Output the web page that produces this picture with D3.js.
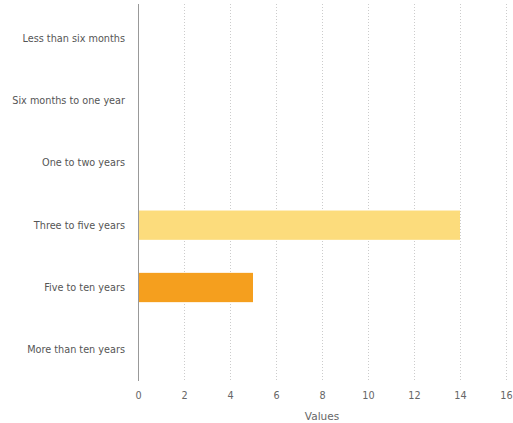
<!DOCTYPE html>
<html>
<head>
<meta charset="utf-8">
<script src="https://cdn.jsdelivr.net/npm/d3@7"></script>
<style>
  body { margin: 0; background: #fff; }
  text { font-family: "DejaVu Sans", Verdana, sans-serif; }
</style>
</head>
<body>
<script>
const categories = ["Less than six months", "Six months to one year", "One to two years",
  "Three to five years", "Five to ten years", "More than ten years"];
const values = [0, 0, 0, 14, 5, 0];
const barColors = ["#fcdc7c", "#fcdc7c", "#fcdc7c", "#fcdc7c", "#f59f1e", "#f59f1e"];
const xTicks = [0, 2, 4, 6, 8, 10, 12, 14, 16];

const W = 513, H = 423;
const mLeft = 138, mRight = 506, mTop = 7, mBottom = 381;

const svg = d3.select('body').append('svg')
  .attr('width', W)
  .attr('height', H);

const x = d3.scaleLinear().domain([0, 16]).range([mLeft, mRight]);
const y = d3.scaleBand().domain(categories).range([mTop, mBottom]).paddingInner(0.53).paddingOuter(0.265);

// dotted grid
svg.append('g').selectAll('line')
  .data(xTicks.filter(d => d > 0))
  .join('line')
  .attr('x1', d => Math.round(x(d)) + 0.5)
  .attr('x2', d => Math.round(x(d)) + 0.5)
  .attr('y1', 4)
  .attr('y2', mBottom)
  .attr('stroke', '#ccc')
  .attr('stroke-dasharray', '1,2');

// bars
svg.append('g').selectAll('rect')
  .data(values)
  .join('rect')
  .attr('x', x(0))
  .attr('y', (d, i) => y(categories[i]))
  .attr('width', d => x(d) - x(0))
  .attr('height', y.bandwidth())
  .attr('fill', (d, i) => barColors[i]);

// y axis line
svg.append('line')
  .attr('x1', mLeft + 0.5).attr('x2', mLeft + 0.5)
  .attr('y1', 4).attr('y2', mBottom)
  .attr('stroke', '#999');

// category labels
svg.append('g').selectAll('text')
  .data(categories)
  .join('text')
  .attr('x', mLeft - 13)
  .attr('y', d => y(d) + y.bandwidth() / 2)
  .attr('dy', '0.35em')
  .attr('text-anchor', 'end')
  .attr('fill', '#555')
  .style('font-size', '9.7px')
  .text(d => d);

// x axis
const xAxis = svg.append('g')
  .attr('transform', `translate(0,${mBottom})`)
  .call(d3.axisBottom(x).tickValues(xTicks).tickSize(0).tickPadding(11));
xAxis.select('.domain').remove();
xAxis.selectAll('text')
  .attr('fill', '#666')
  .style('font-size', '9.7px')
  .style('font-family', '"DejaVu Sans", Verdana, sans-serif');

svg.append('text')
  .attr('x', (mLeft + mRight) / 2)
  .attr('y', 420)
  .attr('text-anchor', 'middle')
  .attr('fill', '#666')
  .style('font-size', '10.5px')
  .text('Values');
</script>
</body>
</html>
